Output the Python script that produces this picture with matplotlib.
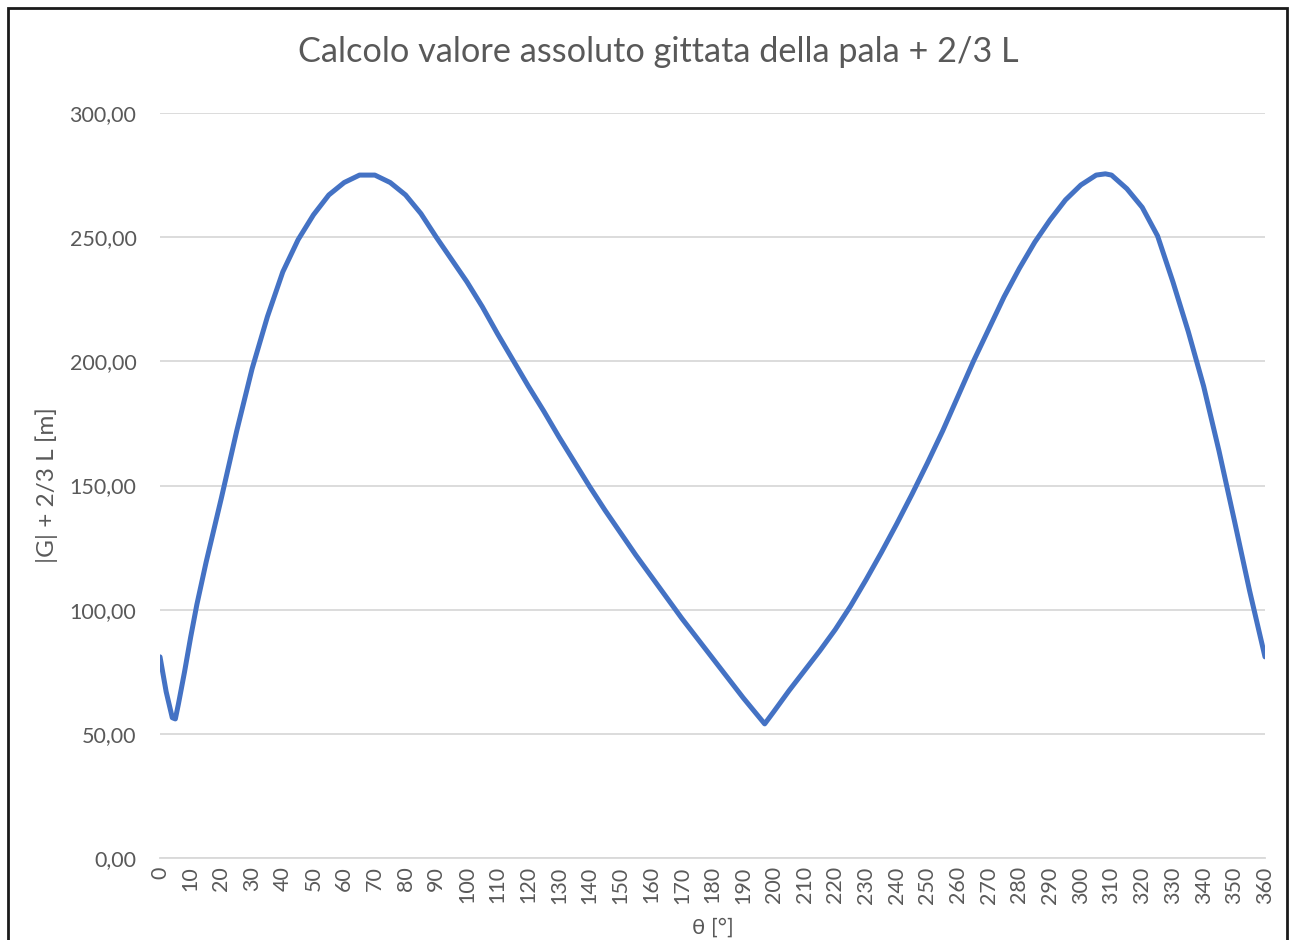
import numpy as np
import matplotlib.pyplot as plt
from matplotlib.patches import Rectangle
from matplotlib.ticker import FuncFormatter

# angle [deg] and |G| + 2/3 L [m]
angle = [0, 2, 4, 5, 6, 8, 10, 12, 15, 20, 25, 30, 35, 40, 45, 50, 55, 60, 65,
         70, 75, 80, 85, 90, 95, 100, 105, 110, 115, 120, 125, 130, 135, 140,
         145, 150, 155, 160, 165, 170, 175, 180, 185, 190, 195, 197, 200, 205,
         210, 215, 220, 225, 230, 235, 240, 245, 250, 255, 260, 265, 270, 275,
         280, 285, 290, 295, 300, 305, 308, 310, 315, 320, 325, 330, 335, 340,
         345, 350, 355, 360]
gittata = [81, 67, 56.5, 56, 62, 75, 89, 102, 119, 145, 172, 197, 218, 236,
           249, 259, 267, 272, 275, 275, 272, 267, 259.5, 250, 241, 232, 222,
           211, 200.5, 190, 180, 169.5, 159.5, 149.5, 140, 131, 122, 113.5, 105,
           96.5, 88.5, 80.5, 72.5, 64.5, 57, 54, 59, 67.5, 75.5, 83.5, 92, 101.5,
           112, 123, 134.5, 146.5, 159, 172, 186, 200, 213, 226, 237.5, 248, 257,
           265, 271, 275, 275.5, 275, 269.5, 262, 250.5, 232, 212, 190, 164, 136,
           107.5, 81]

x_ticks = list(range(0, 361, 10))
y_ticks = [0, 50, 100, 150, 200, 250, 300]

title = "Calcolo valore assoluto gittata della pala + 2/3 L"
ylabel = "|G| + 2/3 L [m]"
xlabel = "θ [°]"

plt.rcParams['font.family'] = ['Lato', 'DejaVu Sans']
text_col = '#595959'

fig = plt.figure(figsize=(12.9, 9.4), dpi=100)
ax = fig.add_axes([160 / 1290, 1 - 858 / 940, 1105 / 1290, 745 / 940])

ax.plot(angle, gittata, color='#4472C4', lw=3.6, solid_capstyle='round',
        solid_joinstyle='round')

ax.set_xlim(0, 360)
ax.set_ylim(0, 300)
ax.set_xticks(x_ticks)
ax.set_xticklabels([str(t) for t in x_ticks], rotation=90)
ax.set_yticks(y_ticks)
ax.yaxis.set_major_formatter(FuncFormatter(lambda v, p: f"{v:.2f}".replace('.', ',')))

ax.grid(axis='y', color='#D9D9D9', lw=1.3)
ax.set_axisbelow(True)
for s in ['top', 'right', 'left']:
    ax.spines[s].set_visible(False)
ax.spines['bottom'].set_color('#D9D9D9')
ax.spines['bottom'].set_linewidth(1.3)
ax.tick_params(length=0, labelcolor=text_col, labelsize=15.5)
ax.tick_params(axis='y', pad=17)
ax.tick_params(axis='x', pad=6)

fig.text(658 / 1290, 1 - 52 / 940, title, fontsize=24.7, color=text_col,
         ha='center', va='center')
ax.set_ylabel(ylabel, fontsize=17.5, color=text_col, labelpad=8)
ax.set_xlabel(xlabel, fontsize=16, color=text_col, labelpad=10)

# chart border
fig.patches.append(Rectangle((8 / 1290, -0.05), 1279 / 1290, 1.05 - 8 / 940,
                             transform=fig.transFigure, fill=False,
                             edgecolor='#1a1a1a', lw=2))

fig.savefig('out.png', dpi=100, facecolor='white')
